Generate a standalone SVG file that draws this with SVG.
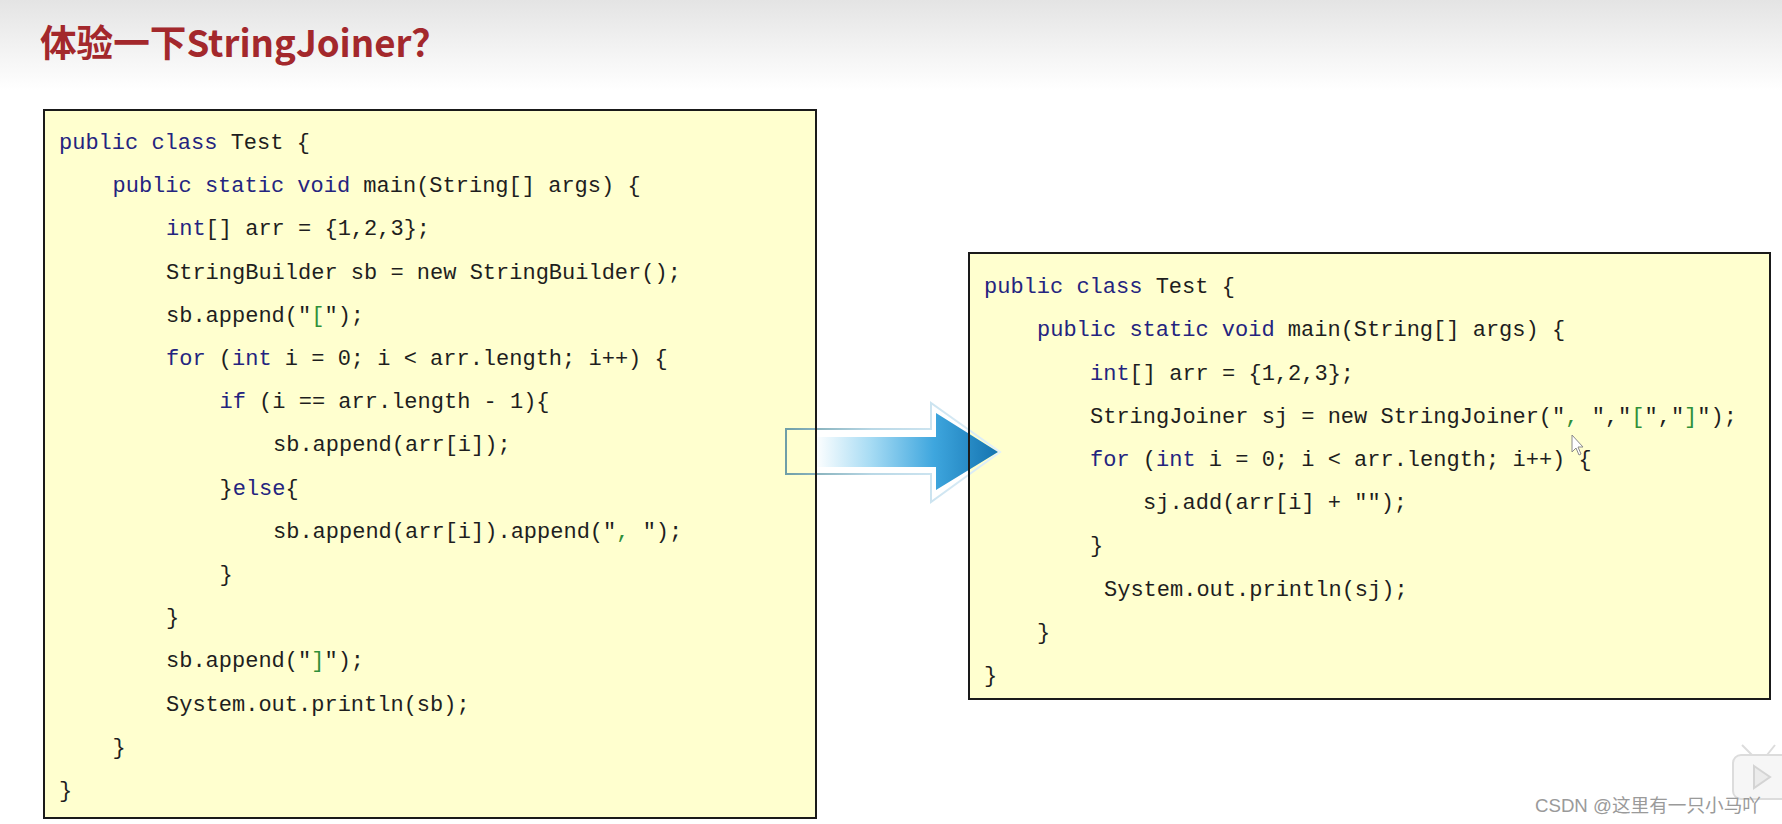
<svg xmlns="http://www.w3.org/2000/svg" width="1782" height="824" viewBox="0 0 1782 824">
  <defs>
    <linearGradient id="bg" x1="0" y1="0" x2="0" y2="1">
      <stop offset="0" stop-color="#e4e4e4"/>
      <stop offset="0.11" stop-color="#ffffff"/>
      <stop offset="1" stop-color="#ffffff"/>
    </linearGradient>
    <linearGradient id="arrowFill" gradientUnits="userSpaceOnUse" x1="815" y1="0" x2="998" y2="0">
      <stop offset="0" stop-color="#ffffff"/>
      <stop offset="0.3" stop-color="#a8dcf4"/>
      <stop offset="0.65" stop-color="#3ea6de"/>
      <stop offset="1" stop-color="#1574b0"/>
    </linearGradient>
    <linearGradient id="arrowEdge" gradientUnits="userSpaceOnUse" x1="786" y1="0" x2="1000" y2="0">
      <stop offset="0" stop-color="#6f9fa8"/>
      <stop offset="0.4" stop-color="#b9d8e6"/>
      <stop offset="1" stop-color="#e2f1fb"/>
    </linearGradient>
    <style>
      .code { font-family: "Liberation Mono", "DejaVu Sans Mono", monospace; font-size: 22px; fill: #1e1e1e; }
      .kw { fill: #24247f; }
      .str { fill: #2f8f3a; }
      .box { fill: #ffffcf; }
      .frame { fill: none; stroke: #1a1a1a; stroke-width: 2; }
      .title { font-family: "Noto Sans CJK SC", "Noto Sans", sans-serif; font-size: 37px; font-weight: bold; fill: #a3282c; }
      .wm { font-family: "Liberation Sans", "Noto Sans CJK SC", sans-serif; font-size: 18px; fill: #9a9a9a; }
    </style>
  </defs>

  <rect x="0" y="0" width="1782" height="824" fill="url(#bg)"/>

  <g id="title">
    <text class="title" x="40" y="57" textLength="408" lengthAdjust="spacingAndGlyphs">体验一下StringJoiner？</text>
  </g>

  <g id="node-stringbuilder">
    <rect class="box" x="44" y="110" width="772" height="708"/>
    <text class="code" x="59" y="149"><tspan class="kw">public class</tspan> Test {</text>
    <text class="code" x="112.5" y="192"><tspan class="kw">public static void</tspan> main(String[] args) {</text>
    <text class="code" x="166" y="235"><tspan class="kw">int</tspan>[] arr = {1,2,3};</text>
    <text class="code" x="166" y="278.5">StringBuilder sb = new StringBuilder();</text>
    <text class="code" x="166" y="321.5">sb.append("<tspan class="str">[</tspan>");</text>
    <text class="code" x="166" y="365"><tspan class="kw">for</tspan> (<tspan class="kw">int</tspan> i = 0; i &lt; arr.length; i++) {</text>
    <text class="code" x="219.5" y="408"><tspan class="kw">if</tspan> (i == arr.length - 1){</text>
    <text class="code" x="273" y="451">sb.append(arr[i]);</text>
    <text class="code" x="219.5" y="494.5">}<tspan class="kw">else</tspan>{</text>
    <text class="code" x="273" y="537.5">sb.append(arr[i]).append("<tspan class="str">, </tspan>");</text>
    <text class="code" x="219.5" y="581">}</text>
    <text class="code" x="166" y="624">}</text>
    <text class="code" x="166" y="667">sb.append("<tspan class="str">]</tspan>");</text>
    <text class="code" x="166" y="710.5">System.out.println(sb);</text>
    <text class="code" x="112.5" y="753.5">}</text>
    <text class="code" x="59" y="796.5">}</text>
  </g>

  <g id="node-stringjoiner">
    <rect class="box" x="969" y="253" width="801" height="446"/>
    <text class="code" x="984" y="293"><tspan class="kw">public class</tspan> Test {</text>
    <text class="code" x="1037" y="336"><tspan class="kw">public static void</tspan> main(String[] args) {</text>
    <text class="code" x="1090" y="379.5"><tspan class="kw">int</tspan>[] arr = {1,2,3};</text>
    <text class="code" x="1090" y="422.5">StringJoiner sj = new StringJoiner("<tspan class="str">, </tspan>","<tspan class="str">[</tspan>","<tspan class="str">]</tspan>");</text>
    <text class="code" x="1090" y="466"><tspan class="kw">for</tspan> (<tspan class="kw">int</tspan> i = 0; i &lt; arr.length; i++) {</text>
    <text class="code" x="1143" y="509">sj.add(arr[i] + "");</text>
    <text class="code" x="1090" y="552">}</text>
    <text class="code" x="1104" y="595.5">System.out.println(sj);</text>
    <text class="code" x="1037" y="638.5">}</text>
    <text class="code" x="984" y="682">}</text>
  </g>

  <g id="connectors">
    <path d="M786,429 H931 V403 L1000,452 L931,502 V474 H786 Z" fill="none" stroke="url(#arrowEdge)" stroke-width="2"/>
    <path d="M815,437 H936 V413 L998,452 L936,490 V467 H815 Z" fill="url(#arrowFill)"/>
  </g>

  <g id="frames">
    <rect class="frame" x="44" y="110" width="772" height="708"/>
    <rect class="frame" x="969" y="253" width="801" height="446"/>
  </g>

  <g id="cursor">
    <path d="M1572,435 L1572,452 L1576,448 L1579,455 L1581,454 L1578,447 L1583,447 Z" fill="#ffffff" stroke="#8a8a8a" stroke-width="1"/>
  </g>

  <g id="watermark">
    <g id="bili-icon" fill="#f6f6f6" stroke="#dcdcdc" stroke-width="2">
      <line x1="1742" y1="745" x2="1752" y2="755"/>
      <line x1="1775" y1="745" x2="1767" y2="755"/>
      <rect x="1733" y="755" width="60" height="44" rx="8"/>
      <path d="M1754,766 L1770,777 L1754,788 Z" fill="#ebebeb" stroke="#d4d4d4"/>
    </g>
    <text class="wm" x="1535" y="812" textLength="226" lengthAdjust="spacingAndGlyphs">CSDN @这里有一只小马吖</text>
  </g>
</svg>
